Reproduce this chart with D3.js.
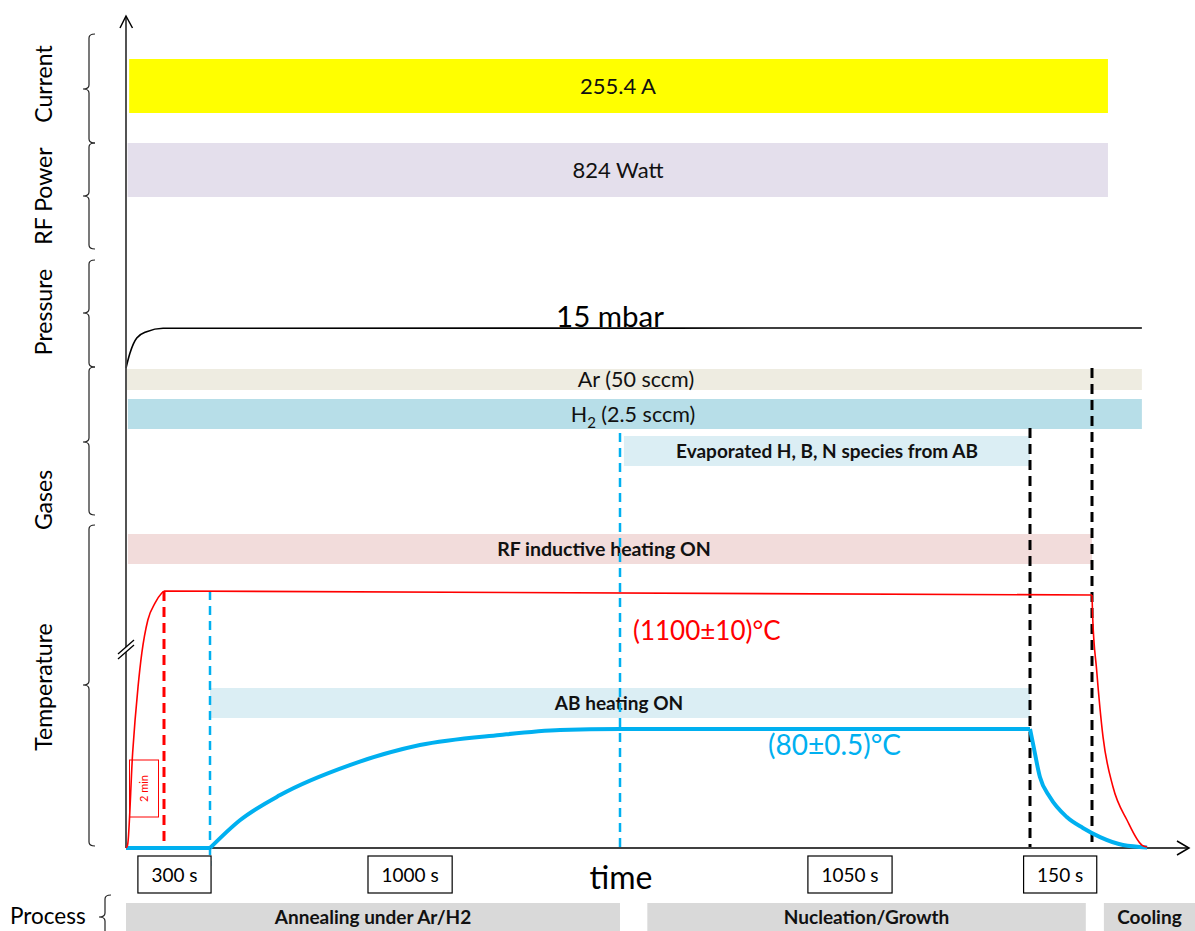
<!DOCTYPE html>
<html>
<head>
<meta charset="utf-8">
<script src="https://cdn.jsdelivr.net/npm/d3@7"></script>
<style>
  html, body { margin: 0; padding: 0; background: #fff; }
  svg { display: block; font-family: Lato, "Open Sans", sans-serif; }
</style>
</head>
<body>
<svg id="chart" width="1195" height="931"></svg>
<script>
// ---- Process time line (s) and where each step sits along the time axis ----
const timeKnots = [0, 120, 300, 1300, 2350, 2500, 2700];
const timePx    = [126, 164, 210, 620, 1030, 1092, 1150];

// ---- Temperature profiles: [time s, temperature °C] ----
const substrateTemp = [
  [0, 20], [5, 21.5], [21, 68], [38, 397], [50, 653], [69, 902], [92, 1030],
  [113, 1095], [120, 1100], [2500, 1090], [2502, 940], [2516, 525],
  [2538, 76], [2572, 51], [2621, 34], [2672, 21.5], [2690, 20.5]
];
const abTemp = [
  [0, 20], [300, 20], [373, 34], [471, 46.7], [641, 61.8], [812, 71.9],
  [1007, 77], [1154, 79.5], [1300, 80.5], [1370, 80], [2350, 80],
  [2357, 72.9], [2374, 55.8], [2398, 45.7], [2439, 35.6], [2478, 30.1],
  [2528, 25.5], [2607, 21.5], [2690, 20.3]
];
// times where a profile changes regime (heater switched on/off)
const substrateBreaks = [120, 2500];
const abBreaks = [300, 2350];

// ---- Chamber pressure: [time s, mbar] ----
const pressure = [[0, 0], [12.6, 5.6], [34, 11.25], [65, 13.6], [117, 14.9], [2672, 15]];

// ---- Settings shown as bands: [label, start s, end s] ----
const currentBand  = ["255.4 A", 10, 2555];
const powerBand    = ["824 Watt", 5, 2555];
const arBand       = ["Ar (50 sccm)", 3, 2672];
const h2Band       = ["H2 (2.5 sccm)", 6, 2672];
const evapBand     = ["Evaporated H, B, N species from AB", 1310, 2350];
const rfHeatBand   = ["RF inductive heating ON", 6, 2500];
const abHeatBand   = ["AB heating ON", 300, 2350];

// ---- Step boundaries (s) ----
const stepMarks = [120, 300, 1300, 2350, 2500];

// ---- Step durations: [label, centre time s] ----
const durationLabels = ["300 s", "1000 s", "1050 s", "150 s"];
const durationCentres = [161, 788, 1889, 2423];

// ---- Process phases: [label, start s, end s] ----
const phaseLabels = ["Annealing under Ar/H2", "Nucleation/Growth", "Cooling"];
const phaseStarts = [0, 1370, 2541];
const phaseEnds   = [1300, 2485, 2870];

// ---- Parameter groups on the left ----
const groupLabels = ["Current", "RF Power", "Pressure", "Gases", "Temperature"];

const svg = d3.select("#chart");

const x = d3.scaleLinear().domain(timeKnots).range(timePx);
const yT = d3.scaleLinear().domain([20, 80, 1090, 1110]).range([848, 729, 595, 587]);
const yP = d3.scaleLinear().domain([0, 15]).range([368, 328]);

const RED = "#FF0000", BLUE = "#00B0F0", AXIS = "#404040";

// ---- bands ----
function band(b, y0, h, fill, opts = {}) {
  const [label, t0, t1] = b;
  svg.append("rect")
    .attr("x", x(t0)).attr("y", y0)
    .attr("width", x(t1) - x(t0)).attr("height", h)
    .attr("fill", fill);
  const t = svg.append("text")
    .attr("x", opts.cx != null ? opts.cx : (x(t0) + x(t1)) / 2)
    .attr("y", y0 + h / 2)
    .attr("dy", "0.35em")
    .attr("text-anchor", "middle")
    .attr("font-size", opts.size || 17)
    .attr("font-weight", opts.bold ? "bold" : "normal")
    .attr("fill", "#111");
  if (opts.sub) {
    t.append("tspan").text("H");
    t.append("tspan").attr("font-size", 15).attr("dy", 6).text("2");
    t.append("tspan").attr("dy", -6).text(" (2.5 sccm)");
  } else {
    t.text(label);
  }
}

band(currentBand, 59, 54, "#FFFF00", { size: 22, cx: 618 });
band(powerBand, 143, 54, "#E4DFEC", { size: 22, cx: 618 });
band(arBand, 369, 21, "#EEECE1", { size: 21.5, cx: 636 });
band(h2Band, 399, 30, "#B7DEE8", { size: 21.5, cx: 633, sub: true });
band(evapBand, 436, 30, "#DBEEF4", { size: 19, bold: true, cx: 827 });
band(rfHeatBand, 534, 30, "#F2DCDB", { size: 19.5, bold: true, cx: 604 });
band(abHeatBand, 688, 30, "#DBEEF4", { size: 19, bold: true, cx: 619 });

// ---- pressure curve ----
svg.append("path")
  .datum(pressure)
  .attr("fill", "none").attr("stroke", "#000").attr("stroke-width", 1.6)
  .attr("d", d3.line().x(d => x(d[0])).y(d => yP(d[1])).curve(d3.curveMonotoneX));
svg.append("text")
  .attr("x", 610).attr("y", 327)
  .attr("text-anchor", "middle").attr("font-size", 29.5).attr("fill", "#000")
  .text("15 mbar");

// ---- step boundaries ----
const markStyle = [
  { c: RED,    y0: yT(1100), y1: 848, w: 3,   dash: "10,6" },
  { c: BLUE,   y0: 591,      y1: 866, w: 2.5, dash: "9,6" },
  { c: BLUE,   y0: 433,      y1: 848, w: 2.5, dash: "9,6" },
  { c: "#000", y0: 428,      y1: 848, w: 3,   dash: "10,6" },
  { c: "#000", y0: 368,      y1: 848, w: 3,   dash: "10,6" }
];
stepMarks.forEach((t, i) => {
  const s = markStyle[i];
  svg.append("line")
    .attr("x1", x(t)).attr("x2", x(t))
    .attr("y1", s.y0).attr("y2", s.y1)
    .attr("stroke", s.c).attr("stroke-width", s.w)
    .attr("stroke-dasharray", s.dash);
});

// ---- axes ----
svg.append("line").attr("x1", 126).attr("x2", 1189).attr("y1", 848).attr("y2", 848)
  .attr("stroke", AXIS).attr("stroke-width", 1.8);
svg.append("path").attr("d", "M1177,841 L1189,848 L1177,855")
  .attr("fill", "none").attr("stroke", "#000").attr("stroke-width", 1.5);
svg.append("line").attr("x1", 126).attr("x2", 126).attr("y1", 848).attr("y2", 17)
  .attr("stroke", AXIS).attr("stroke-width", 1.8);
svg.append("path").attr("d", "M120,28 L126,16 L132.5,28")
  .attr("fill", "none").attr("stroke", "#000").attr("stroke-width", 1.5);
// axis break
svg.append("polygon").attr("points", "119,654 133,641 133,646 119,659").attr("fill", "#fff");
svg.append("line").attr("x1", 118).attr("y1", 654).attr("x2", 134).attr("y2", 640)
  .attr("stroke", "#000").attr("stroke-width", 1.3);
svg.append("line").attr("x1", 118).attr("y1", 659).attr("x2", 134).attr("y2", 645)
  .attr("stroke", "#000").attr("stroke-width", 1.3);

// ---- temperature curves (each regime smoothed on its own) ----
const tempLine = d3.line().x(d => x(d[0])).y(d => yT(d[1])).curve(d3.curveMonotoneX);
function regimes(data, breaks) {
  const cuts = [-Infinity, ...breaks, Infinity];
  const parts = [];
  for (let i = 0; i < cuts.length - 1; i++) {
    parts.push(data.filter(d => d[0] >= cuts[i] && d[0] <= cuts[i + 1]));
  }
  return parts;
}
function profile(data, breaks, color, width) {
  const d = regimes(data, breaks).map(p => tempLine(p)).join("");
  svg.append("path").attr("d", d)
    .attr("fill", "none").attr("stroke", color).attr("stroke-width", width)
    .attr("stroke-linejoin", "round");
}
profile(abTemp, abBreaks, BLUE, 4);
profile(substrateTemp, substrateBreaks, RED, 1.6);

svg.append("text").attr("x", 633).attr("y", 640).attr("font-size", 26)
  .attr("fill", RED).text("(1100±10)°C");
svg.append("text").attr("x", 768).attr("y", 755).attr("font-size", 28)
  .attr("fill", BLUE).text("(80±0.5)°C");

// "2 min" ramp note
svg.append("rect").attr("x", 129.5).attr("y", 760).attr("width", 29).attr("height", 57)
  .attr("fill", "none").attr("stroke", RED).attr("stroke-width", 1);
svg.append("text")
  .attr("transform", "translate(148,788.5) rotate(-90)")
  .attr("text-anchor", "middle").attr("font-size", 11).attr("fill", RED)
  .text("2 min");

// ---- durations ----
durationLabels.forEach((lab, i) => {
  const cx = x(durationCentres[i]);
  const g = svg.append("g");
  const rect = g.append("rect");
  const t = g.append("text").attr("x", cx).attr("y", 875).attr("dy", "0.35em")
    .attr("text-anchor", "middle").attr("font-size", 19).attr("fill", "#000").text(lab);
  const w = t.node().getComputedTextLength() + 27;
  rect.attr("x", cx - w / 2).attr("y", 856).attr("width", w).attr("height", 37)
    .attr("fill", "#fff").attr("stroke", "#000").attr("stroke-width", 1.2);
});
svg.append("text").attr("x", 621).attr("y", 889).attr("text-anchor", "middle")
  .attr("font-size", 32).attr("fill", "#000").text("time");

// ---- process phases ----
phaseLabels.forEach((lab, i) => {
  const x0 = x(phaseStarts[i]), x1 = Math.min(x(phaseEnds[i]), 1195);
  svg.append("rect").attr("x", x0).attr("y", 903).attr("width", x1 - x0).attr("height", 30)
    .attr("fill", "#D9D9D9");
  svg.append("text").attr("x", (x0 + x1) / 2).attr("y", 917).attr("dy", "0.35em")
    .attr("text-anchor", "middle").attr("font-size", 19).attr("font-weight", "bold")
    .attr("fill", "#111").text(lab);
});
svg.append("text").attr("x", 10).attr("y", 924).attr("font-size", 22.5).attr("fill", "#000")
  .text("Process");

// ---- group braces and labels ----
function brace(xb, y0, ym, y1, hook = 6) {
  const r = 4;
  const d = `M${xb + hook},${y0} Q${xb},${y0} ${xb},${y0 + r} L${xb},${ym - r} ` +
            `Q${xb},${ym} ${xb - hook},${ym} Q${xb},${ym} ${xb},${ym + r} ` +
            `L${xb},${y1 - r} Q${xb},${y1} ${xb + hook},${y1}`;
  svg.append("path").attr("d", d).attr("fill", "none")
    .attr("stroke", "#222").attr("stroke-width", 1.2);
}
const braceSpans = [[34, 89, 143], [143, 196, 249], [260, 313, 367], [367, 442, 515], [525, 685, 846]];
const labelCentres = [84, 196, 312, 500, 687];
groupLabels.forEach((lab, i) => {
  const [a, m, b] = braceSpans[i];
  brace(89, a, m, b);
  svg.append("text")
    .attr("transform", `translate(52,${labelCentres[i]}) rotate(-90)`)
    .attr("text-anchor", "middle").attr("font-size", 23).attr("fill", "#000")
    .text(lab);
});
brace(105, 895, 917, 945);
</script>
</body>
</html>
